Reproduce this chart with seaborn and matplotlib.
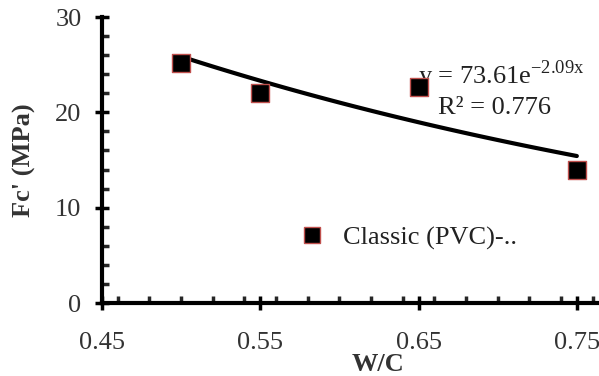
import numpy as np
import pandas as pd
import matplotlib
matplotlib.use("Agg")
import matplotlib.pyplot as plt
import seaborn as sns
from matplotlib.ticker import MultipleLocator

wc = [0.50, 0.55, 0.65, 0.75]
fc = [25.2, 22.0, 22.7, 14.0]
series_label = "Classic (PVC)-.."
eq_text = r"y = 73.61e$^{\mathregular{-2.09x}}$"
r2_text = "R² = 0.776"
x_ticks = [0.45, 0.55, 0.65, 0.75]
y_ticks = [0, 10, 20, 30]

sns.set_style("ticks")
plt.rcParams['font.family'] = ['Liberation Serif', 'DejaVu Serif']
plt.rcParams['mathtext.fontset'] = 'custom'
plt.rcParams['mathtext.rm'] = 'Liberation Serif'

df = pd.DataFrame({"wc": wc, "fc": fc})

fig = plt.figure(figsize=(5.99, 3.76), dpi=100)
ax = fig.add_axes([102/599, 73/376, 497/599, 286/376])

# exponential trendline fitted from data
b, lna = np.polyfit(np.array(wc), np.log(np.array(fc)), 1)
xs = np.linspace(min(wc), max(wc), 100)
ys = np.exp(lna) * np.exp(b * xs)
ax.plot(xs, ys, color='black', lw=3, zorder=2)

sns.scatterplot(data=df, x="wc", y="fc", marker='s', s=160, color='black',
                edgecolor='#c0504d', linewidth=1, ax=ax, zorder=4, legend=False)

ax.set_xlim(0.45, 0.764)
ax.set_ylim(0, 30)
ax.set_xticks(x_ticks)
ax.set_xticklabels([f"{v:.2f}" for v in x_ticks])
ax.set_yticks(y_ticks)
ax.xaxis.set_minor_locator(MultipleLocator(0.02))
ax.yaxis.set_minor_locator(MultipleLocator(2))
ax.tick_params(axis='both', which='major', direction='inout', length=9.5, width=2.5,
               labelsize=19, colors='black', labelcolor='#333333')
ax.tick_params(axis='x', which='major', pad=16)
ax.tick_params(axis='y', which='major', pad=10)
ax.tick_params(axis='both', which='minor', direction='in', length=5, width=2.5)
for s in ['top', 'right']:
    ax.spines[s].set_visible(False)
for s in ['left', 'bottom']:
    ax.spines[s].set_linewidth(3)
    ax.spines[s].set_color('black')

ax.set_xlabel("W/C", fontsize=19, fontweight='bold', color='#333333', va='top')
ax.xaxis.set_label_coords((378 - 102) / 497, -50 / 286)
ax.set_ylabel("Fc' (MPa)", fontsize=19, fontweight='bold', color='#333333')
ax.yaxis.set_label_coords((36 - 102) / 497, 0.5)

ax.text(0.6496, 23.9, eq_text, fontsize=19, color='#222222', ha='left', va='center', zorder=1)
ax.text(0.662, 20.5, r2_text, fontsize=19, color='#222222', ha='left', va='center', zorder=1)

# legend
h = plt.Line2D([], [], marker='s', linestyle='none', markersize=12,
               markerfacecolor='black', markeredgecolor='#c0504d', markeredgewidth=1)
ax.legend([h], [series_label], loc='center left', bbox_to_anchor=(0.396, 0.227),
          frameon=False, fontsize=19, handlelength=1, handletextpad=0.68,
          borderpad=0, borderaxespad=0, labelcolor='#222222')

fig.savefig("out.png", dpi=100)
